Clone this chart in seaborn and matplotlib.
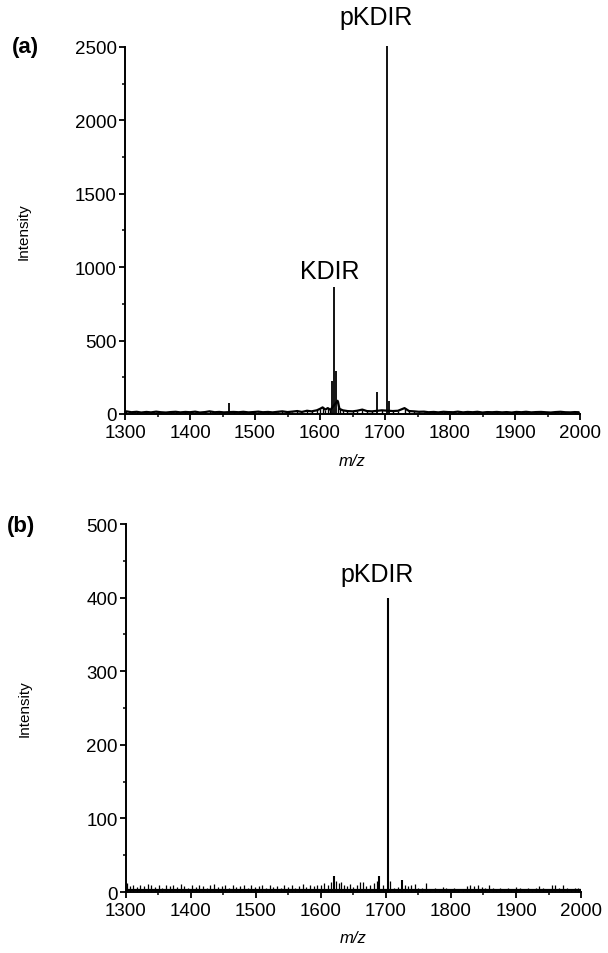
"""
MALDI spectra of KDIR / pKDIR — two stacked stick spectra.
"""
import matplotlib
matplotlib.use("Agg")

import matplotlib.pyplot as plt
import matplotlib.ticker as mticker
import seaborn as sns
import pandas as pd

# ── Data ──────────────────────────────────────────────────────────────────────
# panel (a): main peaks
A_PEAK_MZ = [1460, 1619, 1622, 1624, 1688, 1702.6, 1706]
A_PEAK_INT = [75, 227, 867, 295, 148, 2510, 90]

# panel (a): baseline noise
A_NOISE_MZ = [1302, 1310, 1318, 1325, 1333, 1340, 1348, 1355, 1363, 1370,
              1378, 1385, 1393, 1400, 1408, 1415, 1423, 1430, 1438, 1445,
              1452, 1467, 1475, 1482, 1490, 1497, 1505, 1512, 1520, 1527,
              1535, 1542, 1550, 1557, 1565, 1572, 1580, 1587, 1595, 1600,
              1604, 1608, 1612, 1616, 1627, 1630, 1635, 1642, 1650, 1657,
              1665, 1672, 1680, 1695, 1712, 1720, 1730, 1737, 1745, 1752,
              1760, 1767, 1775, 1782, 1790, 1797, 1805, 1812, 1820, 1827,
              1835, 1842, 1850, 1857, 1865, 1872, 1880, 1887, 1895, 1902,
              1910, 1917, 1925, 1932, 1940, 1947, 1955, 1962, 1970, 1977,
              1985, 1992, 1998]
A_NOISE_INT = [18, 12, 15, 10, 14, 11, 16, 12, 10, 13,
               15, 11, 14, 12, 16, 10, 13, 18, 12, 14,
               11, 14, 12, 15, 11, 13, 16, 12, 14, 11,
               15, 18, 13, 16, 20, 14, 22, 18, 25, 35,
               45, 30, 40, 28, 90, 35, 25, 20, 18, 22,
               30, 20, 18, 25, 20, 22, 40, 20, 18, 15,
               16, 12, 14, 11, 15, 13, 12, 16, 11, 14,
               12, 15, 10, 13, 12, 14, 11, 13, 10, 14,
               12, 15, 11, 13, 14, 12, 10, 13, 15, 12,
               11, 13, 12]

# panel (b): peaks
B_PEAK_MZ = [1620, 1690, 1703.5, 1725]
B_PEAK_INT = [22, 22, 400, 17]

# panel (b): baseline noise sticks
B_NOISE_MZ = [1302, 1306, 1311, 1317, 1322, 1328, 1334, 1339, 1345, 1351,
              1356, 1362, 1368, 1373, 1379, 1385, 1390, 1396, 1402, 1407,
              1413, 1419, 1424, 1430, 1436, 1441, 1447, 1453, 1458, 1464,
              1470, 1475, 1481, 1487, 1492, 1498, 1504, 1509, 1515, 1521,
              1526, 1532, 1538, 1543, 1549, 1555, 1560, 1566, 1572, 1577,
              1583, 1589, 1594, 1600, 1605, 1611, 1616, 1623, 1627, 1631,
              1635, 1640, 1645, 1650, 1655, 1660, 1664, 1670, 1675, 1681,
              1686, 1695, 1706, 1712, 1718, 1729, 1734, 1739, 1745, 1750,
              1756, 1761, 1768, 1775, 1781, 1787, 1792, 1798, 1805, 1811,
              1818, 1824, 1830, 1836, 1841, 1847, 1853, 1858, 1864, 1870,
              1876, 1882, 1888, 1893, 1900, 1906, 1912, 1918, 1924, 1930,
              1936, 1942, 1948, 1955, 1960, 1966, 1972, 1978, 1984, 1990,
              1996]
B_NOISE_INT = [12, 8, 9, 7, 10, 8, 11, 9, 7, 10,
               6, 9, 8, 10, 7, 11, 8, 6, 9, 7,
               10, 8, 6, 9, 11, 7, 8, 10, 6, 9,
               7, 8, 10, 6, 9, 7, 8, 10, 6, 9,
               7, 8, 6, 9, 7, 10, 6, 8, 11, 7,
               9, 8, 10, 9, 12, 10, 14, 15, 12, 14,
               10, 8, 11, 7, 9, 13, 13, 8, 10, 12,
               15, 9, 15, 6, 7, 10, 8, 9, 11, 6,
               5, 12, 4, 5, 4, 7, 6, 4, 5, 3,
               4, 8, 9, 8, 10, 7, 6, 9, 5, 4,
               5, 4, 6, 4, 7, 5, 4, 6, 3, 5,
               8, 6, 4, 9, 10, 6, 9, 5, 4, 6,
               5]
B_BASELINE = 3

X_TICKS = [1300, 1400, 1500, 1600, 1700, 1800, 1900, 2000]
A_Y_TICKS = [0, 500, 1000, 1500, 2000, 2500]
B_Y_TICKS = [0, 100, 200, 300, 400, 500]

# ── Style ─────────────────────────────────────────────────────────────────────
sns.set_theme(style="ticks")
plt.rcParams.update({
    "font.family": ["Liberation Sans", "DejaVu Sans"],
    "text.color": "black",
    "axes.labelcolor": "black",
    "axes.linewidth": 1.4,
    "axes.edgecolor": "black",
    "xtick.major.width": 1.3,
    "ytick.major.width": 1.3,
    "xtick.minor.width": 1.1,
    "ytick.minor.width": 1.1,
    "xtick.major.size": 4.5,
    "ytick.major.size": 4.5,
    "xtick.minor.size": 2.5,
    "ytick.minor.size": 2.5,
    "xtick.direction": "out",
    "ytick.direction": "out",
    "xtick.color": "black",
    "ytick.color": "black",
})


def setup_axes(ax, yticks, xlabel_y):
    ax.set_xlim(X_TICKS[0], X_TICKS[-1])
    ax.set_ylim(yticks[0], yticks[-1])
    ax.set_xticks(X_TICKS)
    ax.set_yticks(yticks)
    ax.xaxis.set_minor_locator(mticker.AutoMinorLocator(2))
    ax.yaxis.set_minor_locator(mticker.AutoMinorLocator(2))
    ax.tick_params(axis="y", which="major", labelsize=13.5, pad=1.5)
    ax.tick_params(axis="x", which="major", labelsize=13.5, pad=3)
    sns.despine(ax=ax)

    ax.set_ylabel("Intensity", fontsize=11)
    ax.yaxis.set_label_coords(-0.207, 0.5)
    ax.set_xlabel("m/z", fontsize=12, style="italic")
    ax.xaxis.set_label_coords(0.5, xlabel_y)


fig = plt.figure(figsize=(6.08, 9.54), dpi=100)
ax_a = fig.add_axes([0.2056, 0.565, 0.7484, 0.3847])
ax_b = fig.add_axes([0.2072, 0.0639, 0.7484, 0.3857])

# ── Panel (a): noisy baseline drawn as a trace, peaks as sticks ───────────────
noise_a = pd.DataFrame({"mz": A_NOISE_MZ, "intensity": A_NOISE_INT})
sns.lineplot(data=noise_a, x="mz", y="intensity", color="black", lw=1.6, ax=ax_a)
ax_a.vlines(noise_a["mz"], 0, noise_a["intensity"], color="black", lw=1.0)
ax_a.vlines(A_PEAK_MZ, 0, A_PEAK_INT, color="black", lw=1.3, clip_on=False)
setup_axes(ax_a, A_Y_TICKS, -0.105)

# ── Panel (b): stick spectrum over a flat baseline ────────────────────────────
noise_b = pd.DataFrame({"mz": B_NOISE_MZ, "intensity": B_NOISE_INT})
ax_b.axhline(B_BASELINE, color="black", lw=1.6)
ax_b.vlines(noise_b["mz"], 0, noise_b["intensity"], color="black", lw=0.9)
ax_b.vlines(B_PEAK_MZ, 0, B_PEAK_INT, color="black", lw=1.5)
setup_axes(ax_b, B_Y_TICKS, -0.103)

# peak labels
ax_a.text(1686, 2704, "pKDIR", fontsize=18, ha="center", va="center", clip_on=False)
ax_a.text(1615, 974, "KDIR", fontsize=18, ha="center", va="center")
ax_b.text(1686, 432, "pKDIR", fontsize=18, ha="center", va="center")

# panel tags
fig.text(0.0197, 0.9507, "(a)", fontsize=16, fontweight="bold", ha="left", va="center")
fig.text(0.0115, 0.4476, "(b)", fontsize=16, fontweight="bold", ha="left", va="center")

fig.savefig("out.png", dpi=100)
